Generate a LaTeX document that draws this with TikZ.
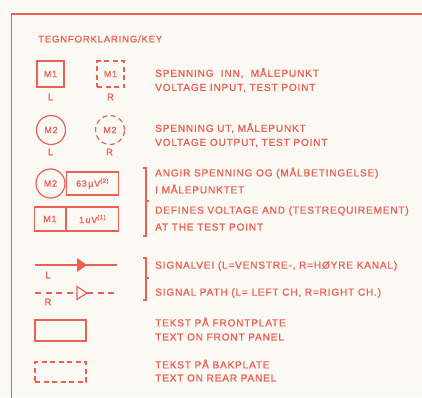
\documentclass[tikz,border=0pt]{standalone}
\usepackage{fontspec}
\setmainfont{Liberation Sans}[LetterSpace=8, FakeBold=1.2]
\definecolor{keyred}{RGB}{236,96,84}
\definecolor{paper}{RGB}{250,249,243}
\tikzset{
  keytext/.style={anchor=west, text=keyred, inner sep=0pt, font=\fontsize{10.1}{11}\selectfont},
  chlabel/.style={text=keyred, inner sep=0pt, font=\fontsize{9.5}{10}\selectfont},
  meterbox/.style={draw=keyred, line width=1.2pt, minimum width=27pt, minimum height=26pt, inner sep=0pt, text=keyred, font=\fontsize{9}{10}\selectfont},
  metercirc/.style={meterbox, circle, minimum size=29pt},
  backdash/.style={dash pattern=on 5pt off 3.5pt},
  keyline/.style={draw=keyred, line width=1.2pt},
}
\begin{document}
\begin{tikzpicture}[x=1pt, y=-1pt]
        % Paper and frame
        \fill[paper] (0,0) rectangle (422,397);
        \useasboundingbox (0,0) rectangle (422,397);
        \draw[keyline, line width=1.5pt] (11.5,400) -- (11.5,14) -- (425,14);

        % Title
        \node[keytext, font=\fontsize{9.6}{10}\selectfont] (title) at (38,39) {TEGNFORKLARING/KEY};

        % Input test points
        \node[meterbox] (m1l) at (50.5,74) {M1};
        \node[meterbox, backdash] (m1r) at (110.5,74) {M1};
        \node[chlabel] (m1lL) at (50.5,97) {L};
        \node[chlabel] (m1rR) at (110.5,97) {R};
        \node[keytext] (inA) at (155,73) {SPENNING\ \ INN,\ \ MÅLEPUNKT};
        \node[keytext] (inB) at (155,88) {VOLTAGE INPUT, TEST POINT};

        % Output test points
        \node[metercirc] (m2l) at (51,130) {M2};
        \node[metercirc, backdash] (m2r) at (110,130) {M2};
        \node[chlabel] (m2lL) at (50.5,152) {L};
        \node[chlabel] (m2rR) at (109.5,152) {R};
        \node[keytext] (outA) at (155,128) {SPENNING UT, MÅLEPUNKT};
        \node[keytext] (outB) at (155,143) {VOLTAGE OUTPUT, TEST POINT};

        % Voltage and requirement at test point
        \node[metercirc] (m2v) at (50.5,183.5) {M2};
        \node[meterbox, anchor=west, minimum width=52pt, minimum height=23pt] (v63) at (66,183.5) {63\,µV\textsuperscript{(2)}};
        \node[meterbox, anchor=east, minimum width=31pt, minimum height=24pt] (m1v) at (66,219) {M1};
        \node[meterbox, anchor=west, minimum width=52pt, minimum height=24pt] (v1) at (66,219) {1\,uV\textsuperscript{(1)}};
        \draw[keyline] (143,168) -- (146,168) -- (146,236) -- (143,236);
        \draw[keyline] (146,201) -- (149,201);
        \node[keytext] (reqA) at (155,173) {ANGIR SPENNING OG (MÅLBETINGELSE)};
        \node[keytext] (reqB) at (155,189) {I MÅLEPUNKTET};
        \node[keytext] (reqC) at (155,211) {DEFINES VOLTAGE AND (TESTREQUIREMENT)};
        \node[keytext] (reqD) at (155,227) {AT THE TEST POINT};

        % Signal paths
        \coordinate (sl1) at (35,265);
        \coordinate (sr1) at (117,265);
        \coordinate (sl2) at (35,293);
        \coordinate (sm2) at (77,293);
        \coordinate (sn2) at (87,293);
        \coordinate (sr2) at (117,293);
        \draw[keyline] (sl1) -- (sr1);
        \fill[keyred] (77,258) -- (87,265) -- (77,272) -- cycle;
        \draw[keyline, dash pattern=on 6pt off 4.5pt] (sl2) -- (sm2);
        \draw[keyline, dash pattern=on 6pt off 4.5pt] (sn2) -- (sr2);
        \draw[keyline] (77,286.5) -- (87,293) -- (77,299.5) -- cycle;
        \node[chlabel] (pathL) at (48,275) {L};
        \node[chlabel] (pathR) at (48,302) {R};
        \draw[keyline] (143,258) -- (146,258) -- (146,300) -- (143,300);
        \draw[keyline] (146,278) -- (149,278);
        \node[keytext] (pathA) at (155,266) {SIGNALVEI (L=VENSTRE-, R=HØYRE KANAL)};
        \node[keytext] (pathB) at (155,293) {SIGNAL PATH (L= LEFT CH, R=RIGHT CH.)};

        % Panel text
        \node[meterbox, minimum width=51pt, minimum height=21pt] (front) at (60.5,330.5) {};
        \node[keytext] (frontA) at (155,322) {TEKST PÅ FRONTPLATE};
        \node[keytext] (frontB) at (155,337) {TEXT ON FRONT PANEL};
        \node[meterbox, backdash, minimum width=51pt, minimum height=20pt] (rear) at (60.5,372) {};
        \node[keytext] (rearA) at (155,364) {TEKST PÅ BAKPLATE};
        \node[keytext] (rearB) at (155,378) {TEXT ON REAR PANEL};

    \end{tikzpicture}
\end{document}
